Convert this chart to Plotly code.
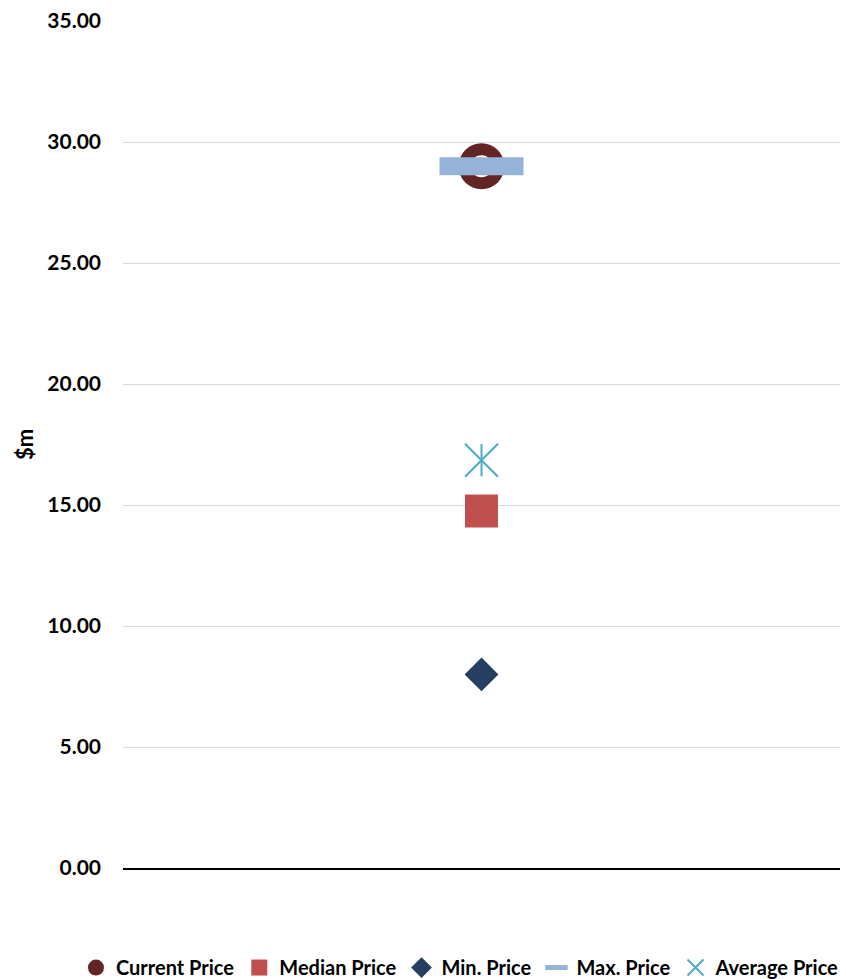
import plotly.graph_objects as go

# Data
series_names = ["Current Price", "Median Price", "Min. Price", "Max. Price", "Average Price"]
series_values = [29.0, 14.75, 8.0, 29.0, 16.85]
series_colors = ["#632523", "#C0504D", "#243F60", "#95B3D7", "#4BACC6"]
y_ticks = [0, 5, 10, 15, 20, 25, 30, 35]
y_tick_labels = ["0.00", "5.00", "10.00", "15.00", "20.00", "25.00", "30.00", "35.00"]
x_pos = [1]

FONT = dict(family="Lato", size=21, color="#000000", weight="bold")

fig = go.Figure()

# Current price: dark red ring
fig.add_trace(go.Scatter(
    x=x_pos, y=[series_values[0]], mode="markers", name=series_names[0],
    marker=dict(symbol="circle", size=46, color=series_colors[0], line=dict(width=0)),
))
fig.add_trace(go.Scatter(
    x=x_pos, y=[series_values[0]], mode="markers", showlegend=False, hoverinfo="skip",
    marker=dict(symbol="circle", size=22, color="#FFFFFF", line=dict(width=0)),
))
# Median
fig.add_trace(go.Scatter(
    x=x_pos, y=[series_values[1]], mode="markers", name=series_names[1],
    marker=dict(symbol="square", size=33, color=series_colors[1], line=dict(width=0)),
))
# Min
fig.add_trace(go.Scatter(
    x=x_pos, y=[series_values[2]], mode="markers", name=series_names[2],
    marker=dict(symbol="diamond", size=26, color=series_colors[2], line=dict(width=0)),
))
# Max
fig.add_trace(go.Scatter(
    x=x_pos, y=[series_values[3]], mode="markers", name=series_names[3],
    marker=dict(symbol="line-ew", size=60, color=series_colors[3],
                line=dict(width=18, color=series_colors[3])),
))
# Average: X plus vertical line
fig.add_trace(go.Scatter(
    x=x_pos, y=[series_values[4]], mode="markers", name=series_names[4],
    marker=dict(symbol="x-thin", size=33, color=series_colors[4],
                line=dict(width=2, color=series_colors[4])),
))
fig.add_trace(go.Scatter(
    x=x_pos, y=[series_values[4]], mode="markers", showlegend=False, hoverinfo="skip",
    marker=dict(symbol="line-ns", size=23, color=series_colors[4],
                line=dict(width=2, color=series_colors[4])),
))

fig.update_layout(
    width=846, height=979,
    margin=dict(l=123, r=6, t=21, b=111, autoexpand=False),
    paper_bgcolor="#FFFFFF", plot_bgcolor="#FFFFFF",
    font=FONT,
    showlegend=True,
    legend=dict(orientation="h", x=-0.0656, xanchor="left", y=-0.0945, yanchor="top",
                font=dict(family="Lato", size=20, color="#000000", weight="bold"),
                itemwidth=30, tracegroupgap=0),
    xaxis=dict(range=[0, 2], showticklabels=False, showgrid=False, zeroline=False,
               showline=True, linecolor="#000000", linewidth=1.5, ticks=""),
    yaxis=dict(range=[0, 35], tickvals=y_ticks, ticktext=y_tick_labels,
               showgrid=True, gridcolor="#D9D9D9", gridwidth=1.3, zeroline=False,
               showline=False, ticks="", ticklabelstandoff=21,
               title=dict(text="$m", standoff=7, font=dict(family="Lato", size=22, weight="bold"))),
)

fig.write_html("out.html")
